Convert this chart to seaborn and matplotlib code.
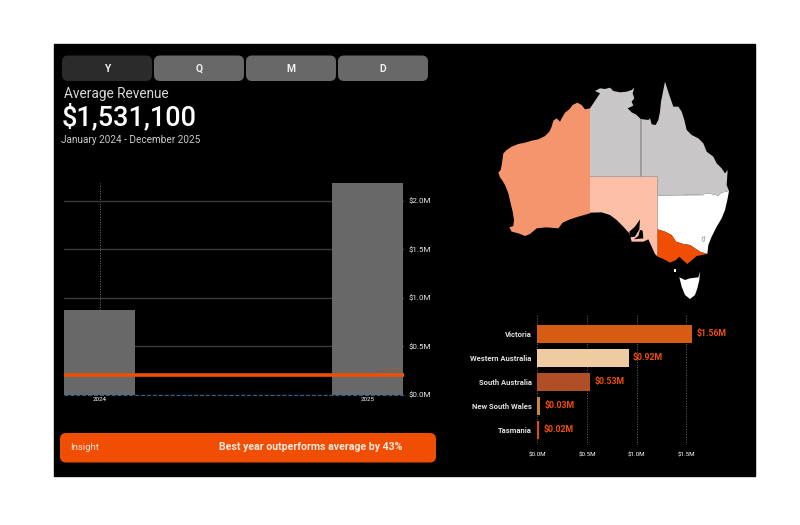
import matplotlib
matplotlib.use('Agg')
import matplotlib.pyplot as plt
from matplotlib.patches import FancyBboxPatch, Rectangle
import seaborn as sns

# yearly revenue, $M
years = ['2024', '2025']
revenue = [0.873, 2.186]
average_line = 0.204
revenue_ticks = [0.0, 0.5, 1.0, 1.5, 2.0]

# revenue by state, $M
states = ['Victoria', 'Western Australia', 'South Australia', 'New South Wales', 'Tasmania']
state_revenue = [1.56, 0.92, 0.53, 0.03, 0.02]
state_colors = ['#D55C12', '#EFCBA2', '#B04E28', '#C98A30', '#E8480A']
state_ticks = [0.0, 0.5, 1.0, 1.5]

buttons = ['Y', 'Q', 'M', 'D']

# map outlines, traced in map units
wa_x = [330, 315, 305, 292, 278, 268, 255, 248, 240, 230, 220, 215, 208, 195, 175, 155, 135, 115, 95, 80, 70, 68, 65, 62, 55, 60, 66, 75, 85, 92, 98, 102, 100, 88, 95, 115, 135, 150, 170, 200, 235, 248, 270, 295, 330]
wa_y = [115, 118, 105, 98, 105, 118, 128, 140, 155, 145, 152, 170, 185, 198, 208, 212, 218, 222, 230, 240, 250, 265, 285, 300, 308, 322, 330, 345, 370, 400, 425, 450, 468, 472, 485, 490, 498, 492, 475, 472, 475, 458, 448, 440, 430]
nt_x = [330, 340, 350, 360, 345, 360, 375, 390, 400, 420, 440, 455, 463, 458, 463, 455, 460, 443, 455, 470, 482, 482, 330]
nt_y = [115, 100, 85, 70, 63, 55, 57, 53, 63, 67, 65, 60, 53, 70, 85, 95, 107, 115, 127, 135, 147, 320, 320]
qld_x = [482, 505, 510, 515, 527, 535, 540, 543, 550, 555, 563, 573, 580, 595, 605, 613, 620, 635, 655, 670, 680, 700, 710, 725, 735, 743, 740, 747, 725, 715, 685, 670, 533, 533, 482]
qld_y = [147, 150, 145, 163, 165, 150, 125, 95, 60, 35, 60, 90, 110, 110, 125, 150, 180, 195, 205, 220, 245, 260, 280, 295, 310, 300, 345, 363, 368, 377, 370, 373, 377, 320, 320]
nsw_x = [533, 670, 685, 715, 725, 747, 742, 735, 725, 710, 695, 685, 682, 660, 630, 610, 588, 575, 555, 533]
nsw_y = [377, 373, 370, 377, 368, 363, 390, 420, 445, 470, 500, 525, 552, 545, 525, 522, 515, 495, 485, 478]
vic_x = [533, 555, 575, 588, 610, 630, 660, 682, 650, 630, 622, 608, 598, 588, 570, 552, 533]
vic_y = [478, 485, 495, 515, 522, 525, 545, 552, 558, 575, 582, 570, 560, 570, 578, 568, 560]
sa_x = [330, 533, 533, 525, 515, 505, 490, 455, 448, 430, 410, 390, 365, 330]
sa_y = [320, 320, 560, 552, 530, 508, 515, 515, 490, 470, 450, 435, 427, 428]
gulf_x = [448, 465, 480, 478, 465, 450]
gulf_y = [485, 470, 448, 478, 500, 502]
gulf2_x = [480, 488, 490, 462, 475]
gulf2_y = [480, 482, 505, 508, 498]
tas_x = [598, 615, 630, 655, 660, 658, 652, 645, 630, 615, 605]
tas_y = [622, 630, 625, 622, 605, 630, 655, 675, 687, 675, 650]
king_x = [583, 587, 587, 583]
king_y = [597, 597, 607, 607]
lake_x = [667, 675, 672, 666, 667]
lake_y = [502, 500, 515, 512, 502]

WIDTH = 800
HEIGHT = 525
ORANGE = '#F04E05'

sns.set_theme(style = 'dark')
plt.rcParams['font.family'] = ['Roboto', 'DejaVu Sans']


def px_axes(fig, left, top, right, bottom):
    """
    Adds an axes placed by pixel edges
    """
    return fig.add_axes([left / WIDTH, 1 - bottom / HEIGHT, (right - left) / WIDTH, (bottom - top) / HEIGHT])


fig = plt.figure(figsize = (8, 5.25), dpi = 100, facecolor = 'white')

# page layer in pixels
page = fig.add_axes([0, 0, 1, 1], zorder = 0)
page.set_xlim(0, WIDTH)
page.set_ylim(HEIGHT, 0)
page.axis('off')
page.add_patch(Rectangle((54, 44), 701, 432, color = 'black'))

for i, label in enumerate(buttons):
    left = 62 + i * 92
    page.add_patch(FancyBboxPatch((left, 55.5), 90, 25.5, boxstyle = 'round,pad=0,rounding_size=6',
                                  facecolor = '#2B2B2B' if i == 0 else '#686868', linewidth = 0))
    page.text(left + 45, 68.5, label, color = '#EEEEEE', fontsize = 7.5, fontweight = 'bold', ha = 'center', va = 'center')

page.text(64, 94, 'Average Revenue', color = '#D8D8D8', fontsize = 9.8, va = 'center')
page.text(62, 117, '$1,531,100', color = 'white', fontsize = 19.5, fontweight = 'medium', va = 'center')
page.text(61, 140, 'January 2024 - December 2025', color = '#C8C8C8', fontsize = 7.2, va = 'center')

page.add_patch(FancyBboxPatch((60, 433), 376, 29.5, boxstyle = 'round,pad=0,rounding_size=6',
                              facecolor = ORANGE, linewidth = 0))
page.text(70, 447, 'Insight', color = '#F8E4D8', fontsize = 6.8, va = 'center')
page.text(219, 446.5, 'Best year outperforms average by 43%', color = '#FBE9DE', fontsize = 7.6, fontweight = 'bold', va = 'center')

# yearly bars
ax = px_axes(fig, 64, 183, 404, 394.5)
ax.patch.set_alpha(0)
sns.barplot(x = years, y = revenue, color = '#686868', saturation = 1, width = 0.265, linewidth = 0, ax = ax, zorder = 3)
ax.set_xlim(-0.133, 1.136)
ax.set_ylim(0, max(revenue))
ax.set_yticks(revenue_ticks)
ax.set_yticklabels([f'${v:.1f}M' for v in revenue_ticks])
ax.yaxis.tick_right()
ax.tick_params(axis = 'y', colors = '#E8E8E8', labelsize = 5.8, length = 0, pad = 3)
ax.tick_params(axis = 'x', colors = 'white', labelsize = 4.5, length = 0, pad = 2)
ax.grid(axis = 'y', color = '#3A3A3A', linewidth = 1)
ax.grid(axis = 'x', color = '#777777', linewidth = 0.7, linestyle = ':')
ax.set_axisbelow(True)
sns.despine(ax = ax, left = True, bottom = True)
ax.axhline(average_line, color = ORANGE, linewidth = 2.6, zorder = 4)
ax.axhline(0, color = '#2F5F90', linewidth = 0.8, linestyle = '--', zorder = 5, clip_on = False)
ax.plot([1.05, 1.125], [average_line + 0.065] * 2, color = ORANGE, linewidth = 0.6, linestyle = ':', zorder = 4)

# state bars
ax2 = px_axes(fig, 537.3, 315, 705, 445)
ax2.patch.set_alpha(0)
sns.barplot(x = state_revenue, y = states, hue = states, palette = state_colors, legend = False, saturation = 1,
            width = 0.77, orient = 'h', linewidth = 0, ax = ax2, zorder = 3)
ax2.set_xlim(0, 168 / 99.6)
ax2.set_ylim(4.625, -0.79)
ax2.set_xticks(state_ticks)
ax2.set_xticklabels([f'${v:.1f}M' for v in state_ticks])
ax2.tick_params(axis = 'x', colors = 'white', labelsize = 4.5, length = 0, pad = 5)
ax2.tick_params(axis = 'y', colors = '#E0E0E0', labelsize = 5.5, length = 0, pad = 4)
for label in ax2.get_yticklabels():
    label.set_fontweight('bold')
ax2.grid(axis = 'x', color = '#666666', linewidth = 0.7, linestyle = ':')
ax2.grid(axis = 'y', visible = False)
ax2.set_axisbelow(True)
sns.despine(ax = ax2, left = True, bottom = True)
for container in ax2.containers:
    ax2.bar_label(container, labels = [f'${v:.2f}M' for v in container.datavalues], color = ORANGE, fontsize = 6.3, fontweight = 'bold', padding = 3)

# state map, axes units match the traced outlines
map_ax = px_axes(fig, 480, 70, 740, 310)
map_ax.set_xlim(0, 780)
map_ax.set_ylim(720, 0)
map_ax.axis('off')
map_ax.fill(wa_x, wa_y, color = '#F5956D', linewidth = 0)
map_ax.fill(nt_x, nt_y, color = '#C8C6C6', linewidth = 0)
map_ax.fill(qld_x, qld_y, color = '#C8C6C6', linewidth = 0)
map_ax.fill(sa_x, sa_y, color = '#FCC0A8', linewidth = 0)
map_ax.fill(nsw_x, nsw_y, color = 'white', linewidth = 0)
map_ax.fill(vic_x, vic_y, color = ORANGE, linewidth = 0)
map_ax.fill(tas_x, tas_y, color = 'white', linewidth = 0)
map_ax.fill(king_x, king_y, color = 'white', linewidth = 0)
map_ax.fill(gulf_x, gulf_y, color = 'black', linewidth = 0)
map_ax.fill(gulf2_x, gulf2_y, color = 'black', linewidth = 0)
map_ax.plot(lake_x, lake_y, color = '#999999', linewidth = 0.5)
map_ax.plot([482, 482], [147, 320], color = '#999999', linewidth = 0.6)
map_ax.plot([330, 533, 533, 670], [320, 320, 377, 375], color = '#AAAAAA', linewidth = 0.5)

fig.savefig('out.png', dpi = 100, facecolor = 'white')
